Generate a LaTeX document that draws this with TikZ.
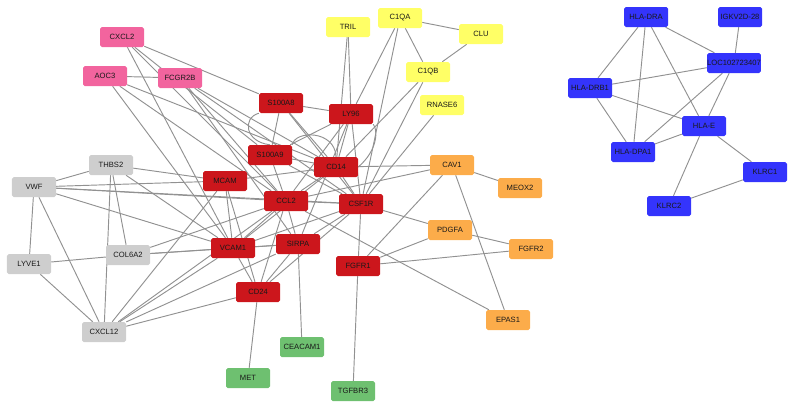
\documentclass[tikz,border=0pt]{standalone}
\usepackage{fontspec}
\setmainfont{Liberation Sans}

\definecolor{genepink}{RGB}{242,100,158}
\definecolor{genered}{RGB}{204,22,28}
\definecolor{geneyellow}{RGB}{255,255,102}
\definecolor{geneorange}{RGB}{252,172,74}
\definecolor{genegray}{RGB}{206,206,206}
\definecolor{genegreen}{RGB}{110,192,112}
\definecolor{geneblue}{RGB}{52,52,252}
\definecolor{linkgray}{RGB}{145,145,145}

\pgfdeclarelayer{background}
\pgfsetlayers{background,main}

\tikzset{
  gene/.style={rounded corners=1.5pt, minimum width=1.32cm, minimum height=0.6cm,
    inner sep=0pt, font=\fontsize{6.5}{7}\selectfont, text=black!90},
  pinkgene/.style={gene, fill=genepink},
  redgene/.style={gene, fill=genered},
  yellowgene/.style={gene, fill=geneyellow},
  orangegene/.style={gene, fill=geneorange},
  graygene/.style={gene, fill=genegray},
  greengene/.style={gene, fill=genegreen},
  bluegene/.style={gene, fill=geneblue},
  link/.style={draw=linkgray, line width=0.8pt},
}

\begin{document}
\begin{tikzpicture}[x=0.03cm, y=-0.03cm]
    \useasboundingbox (0,0) rectangle (794,407);

    % Pink genes
    \node[pinkgene] (cxcl2) at (122,37) {CXCL2};
    \node[pinkgene] (aoc3) at (105,76) {AOC3};
    \node[pinkgene] (fcgr2b) at (180,78) {FCGR2B};

    % Gray genes
    \node[graygene] (thbs2) at (111,165) {THBS2};
    \node[graygene] (vwf) at (34,187) {VWF};
    \node[graygene] (lyve1) at (29,264) {LYVE1};
    \node[graygene] (col6a2) at (128,255) {COL6A2};
    \node[graygene] (cxcl12) at (104,332) {CXCL12};

    % Red genes
    \node[redgene] (s100a8) at (281,103) {S100A8};
    \node[redgene] (ly96) at (351,114) {LY96};
    \node[redgene] (s100a9) at (270,155) {S100A9};
    \node[redgene] (cd14) at (336,167) {CD14};
    \node[redgene] (mcam) at (225,181) {MCAM};
    \node[redgene] (ccl2) at (286,201) {CCL2};
    \node[redgene] (csf1r) at (361,204) {CSF1R};
    \node[redgene] (vcam1) at (233,248) {VCAM1};
    \node[redgene] (sirpa) at (298,244) {SIRPA};
    \node[redgene] (fgfr1) at (358,266) {FGFR1};
    \node[redgene] (cd24) at (258,292) {CD24};

    % Yellow genes
    \node[yellowgene] (tril) at (348,27) {TRIL};
    \node[yellowgene] (c1qa) at (400,18) {C1QA};
    \node[yellowgene] (clu) at (481,34) {CLU};
    \node[yellowgene] (c1qb) at (428,72) {C1QB};
    \node[yellowgene] (rnase6) at (442,105) {RNASE6};

    % Orange genes
    \node[orangegene] (cav1) at (452,165) {CAV1};
    \node[orangegene] (meox2) at (520,188) {MEOX2};
    \node[orangegene] (pdgfa) at (450,230) {PDGFA};
    \node[orangegene] (fgfr2) at (531,249) {FGFR2};
    \node[orangegene] (epas1) at (508,320) {EPAS1};

    % Green genes
    \node[greengene] (ceacam1) at (302,347) {CEACAM1};
    \node[greengene] (met) at (248,378) {MET};
    \node[greengene] (tgfbr3) at (353,391) {TGFBR3};

    % Blue genes
    \node[bluegene] (hladra) at (646,17) {HLA-DRA};
    \node[bluegene] (igkv) at (740,17) {IGKV2D-28};
    \node[bluegene] (loc) at (734,63) {LOC102723407};
    \node[bluegene] (hladrb1) at (590,88) {HLA-DRB1};
    \node[bluegene] (hlae) at (704,126) {HLA-E};
    \node[bluegene] (hladpa1) at (633,152) {HLA-DPA1};
    \node[bluegene] (klrc1) at (765,172) {KLRC1};
    \node[bluegene] (klrc2) at (669,206) {KLRC2};

    \begin{pgfonlayer}{background}
    % Pink links
    \draw[link] (cxcl2) -- (s100a8);
    \draw[link] (cxcl2) -- (s100a9);
    \draw[link] (cxcl2) -- (ccl2);
    \draw[link] (cxcl2) -- (vcam1);
    \draw[link] (aoc3) -- (fcgr2b);
    \draw[link] (aoc3) -- (cd14);
    \draw[link] (aoc3) -- (ccl2);
    \draw[link] (aoc3) -- (vcam1);
    \draw[link] (fcgr2b) -- (cd14);
    \draw[link] (fcgr2b) -- (csf1r);
    \draw[link] (fcgr2b) -- (ccl2);
    \draw[link] (fcgr2b) -- (sirpa);

    % Gray links
    \draw[link] (thbs2) -- (vwf);
    \draw[link] (thbs2) -- (mcam);
    \draw[link] (thbs2) -- (col6a2);
    \draw[link] (thbs2) -- (cxcl12);
    \draw[link] (thbs2) -- (vcam1);
    \draw[link] (vwf) -- (mcam);
    \draw[link] (vwf) -- (ccl2);
    \draw[link] (vwf) -- (vcam1);
    \draw[link] (vwf) -- (csf1r);
    \draw[link] (vwf) -- (lyve1);
    \draw[link] (vwf) -- (cxcl12);
    \draw[link] (lyve1) -- (col6a2);
    \draw[link] (lyve1) -- (cxcl12);
    \draw[link] (col6a2) -- (vcam1);
    \draw[link] (col6a2) -- (sirpa);
    \draw[link] (col6a2) -- (ccl2);
    \draw[link] (cxcl12) -- (mcam);
    \draw[link] (cxcl12) -- (vcam1);
    \draw[link] (cxcl12) -- (cd24);
    \draw[link] (cxcl12) -- (ccl2);
    \draw[link] (cxcl12) -- (sirpa);

    % Red links
    \draw[link] (mcam) -- (vcam1);
    \draw[link] (mcam) -- (cd24);
    \draw[link] (mcam) -- (cd14);
    \draw[link] (s100a8) -- (s100a9);
    \draw[link] (s100a8.south west) .. controls (242,118) and (245,142) .. (s100a9.north);
    \draw[link] (s100a8) -- (ly96);
    \draw[link] (s100a8) -- (cd14);
    \draw[link] (s100a8) -- (csf1r);
    \draw[link] (ly96) -- (cd14);
    \draw[link] (ly96.south east) .. controls (378,130) and (378,150) .. (cd14.east);
    \draw[link] (ly96) -- (s100a9);
    \draw[link] (ly96) -- (ccl2);
    \draw[link] (ly96) -- (csf1r);
    \draw[link] (ly96) -- (sirpa);
    \draw[link] (s100a9) -- (cd14);
    \draw[link] (s100a9.north east) .. controls (295,130) and (335,130) .. (cd14.north);
    \draw[link] (s100a9) -- (ccl2);
    \draw[link] (s100a9) -- (csf1r);
    \draw[link] (cd14) -- (csf1r);
    \draw[link] (cd14) -- (ccl2);
    \draw[link] (cd14) -- (vcam1);
    \draw[link] (ccl2) -- (csf1r);
    \draw[link] (ccl2) -- (vcam1);
    \draw[link] (ccl2) -- (sirpa);
    \draw[link] (ccl2) -- (cd24);
    \draw[link] (ccl2) -- (epas1);
    \draw[link] (csf1r) -- (pdgfa);
    \draw[link] (csf1r) -- (fgfr1);
    \draw[link] (csf1r) -- (vcam1);
    \draw[link] (csf1r) -- (sirpa);
    \draw[link] (csf1r) -- (cd24);
    \draw[link] (sirpa) -- (vcam1);
    \draw[link] (sirpa) -- (cd24);
    \draw[link] (sirpa) -- (ceacam1);
    \draw[link] (vcam1) -- (cd24);
    \draw[link] (cd24) -- (met);
    \draw[link] (fgfr1) -- (tgfbr3);
    \draw[link] (fgfr1) -- (cav1);
    \draw[link] (fgfr1) -- (pdgfa);
    \draw[link] (fgfr1) -- (fgfr2);

    % Yellow links
    \draw[link] (tril) -- (ly96);
    \draw[link] (tril) -- (cd14);
    \draw[link] (c1qa) -- (clu);
    \draw[link] (c1qa) -- (c1qb);
    \draw[link] (c1qa) -- (ly96);
    \draw[link] (c1qa) -- (csf1r);
    \draw[link] (clu) -- (c1qb);
    \draw[link] (c1qb) -- (cd14);
    \draw[link] (c1qb) -- (csf1r);
    \draw[link] (rnase6) -- (csf1r);

    % Orange links
    \draw[link] (cav1) -- (cd14);
    \draw[link] (cav1) -- (ccl2);
    \draw[link] (cav1) -- (meox2);
    \draw[link] (cav1) -- (epas1);
    \draw[link] (pdgfa) -- (fgfr2);

    % Blue links
    \draw[link] (hladra) -- (hladrb1);
    \draw[link] (hladra) -- (hladpa1);
    \draw[link] (hladra) -- (hlae);
    \draw[link] (hladra) -- (loc);
    \draw[link] (igkv) -- (loc);
    \draw[link] (loc) -- (hladrb1);
    \draw[link] (loc) -- (hladpa1);
    \draw[link] (loc) -- (hlae);
    \draw[link] (hladrb1) -- (hladpa1);
    \draw[link] (hladrb1) -- (hlae);
    \draw[link] (hlae) -- (hladpa1);
    \draw[link] (hlae) -- (klrc1);
    \draw[link] (hlae) -- (klrc2);
    \draw[link] (klrc1) -- (klrc2);
    \end{pgfonlayer}

\end{tikzpicture}
\end{document}
